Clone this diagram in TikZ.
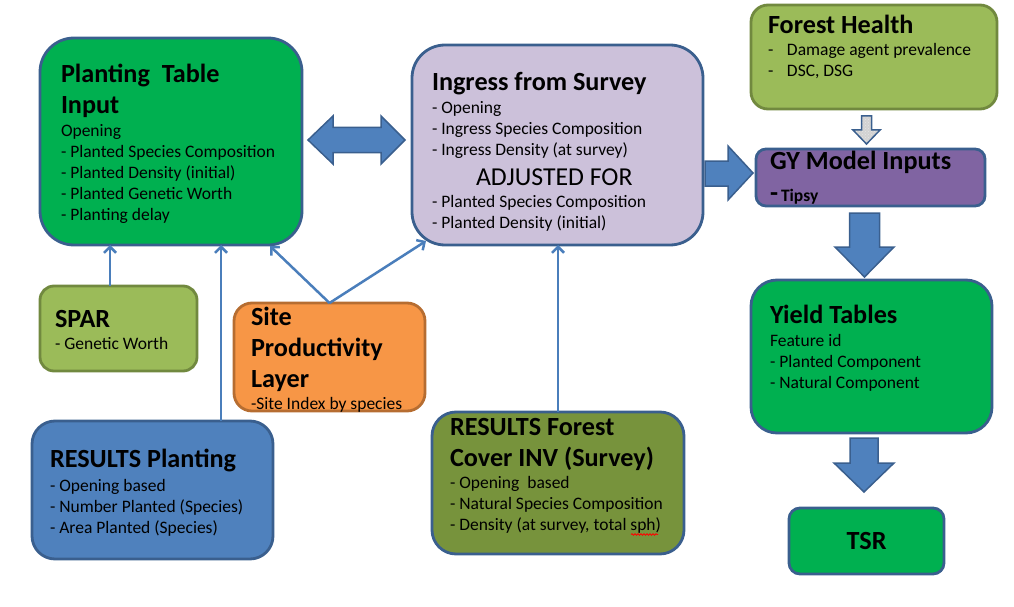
\documentclass[tikz,border=0pt]{standalone}
\usepackage{fontspec}
\setmainfont{Carlito}
\usetikzlibrary{arrows.meta,calc,patterns,decorations.pathmorphing}
\definecolor{cgreen}{HTML}{00B050}
\definecolor{clav}{HTML}{CCC1DA}
\definecolor{colive}{HTML}{9BBB59}
\definecolor{coliveD}{HTML}{71893F}
\definecolor{cpurple}{HTML}{8064A2}
\definecolor{corange}{HTML}{F79646}
\definecolor{corangeD}{HTML}{B66D31}
\definecolor{cblue}{HTML}{4F81BD}
\definecolor{cborder}{HTML}{3A5F8E}
\definecolor{cdkolive}{HTML}{77933C}
\definecolor{cline}{HTML}{4A7EBB}
\newcommand\boxtitle{\fontsize{26.2}{31}\selectfont\bfseries}
\newcommand\boxbody{\fontsize{17.5}{21}\selectfont\mdseries}
\newcommand\boxbig{\fontsize{25.8}{31}\selectfont\mdseries}
\tikzset{
  box/.style={draw=cborder, line width=2.8pt, inner sep=0pt, outer sep=0pt},
  txt/.style={inner sep=0pt, outer sep=0pt, anchor=base west, text=black},
  conn/.style={draw=cline, line width=2.5pt, -{Straight Barb[length=6pt,width=12pt]}},
  blockarrow/.style={fill=cblue, draw=cborder, line width=1.5pt, line join=miter},
}
\begin{document}
\begin{tikzpicture}[x=1pt,y=-1pt]
\useasboundingbox (0,0) rectangle (1014,607);

% boxes
\node[box, fill=cgreen, minimum width=262pt, minimum height=207pt, rounded corners=34pt] (pti) at (171,141.5) {};
\node[box, fill=clav, minimum width=291pt, minimum height=200pt, rounded corners=33pt] (ing) at (557.5,145) {};
\node[box, fill=colive, draw=coliveD, minimum width=246pt, minimum height=104pt, rounded corners=17pt] (fh) at (874,57) {};
\node[box, fill=cpurple, minimum width=229pt, minimum height=57pt, rounded corners=10pt] (gy) at (870.5,177.5) {};
\node[box, fill=cgreen, minimum width=241pt, minimum height=153pt, rounded corners=26pt] (yt) at (871.5,356.5) {};
\node[box, fill=cgreen, minimum width=155pt, minimum height=66pt, rounded corners=11pt, font=\boxtitle] (tsr) at (866.5,541) {TSR};
\node[box, fill=colive, draw=coliveD, minimum width=157pt, minimum height=85pt, rounded corners=14pt] (spar) at (118.5,328.5) {};
\node[box, fill=corange, draw=corangeD, minimum width=191pt, minimum height=108pt, rounded corners=18pt] (site) at (329.5,357) {};
\node[box, fill=cblue, minimum width=241pt, minimum height=138pt, rounded corners=23pt] (rp) at (152.5,490) {};
\node[box, fill=cdkolive, minimum width=252pt, minimum height=142pt, rounded corners=24pt] (fc) at (558,483) {};

% texts
\node[txt] (ptitxt) at (61,83) {\vtop{\boxtitle\hbox{Planting\ \ Table}\hbox{Input}\boxbody\vskip2pt
  \hbox{Opening}\hbox{- Planted Species Composition}\hbox{- Planted Density (initial)}\hbox{- Planted Genetic Worth}\hbox{- Planting delay}}};
\node[txt] (ingtxt) at (432,91) {\vtop{\boxtitle\hbox{Ingress from Survey}\boxbody\vskip2pt
  \hbox{- Opening}\hbox{- Ingress Species Composition}\hbox{- Ingress Density (at survey)}\boxbig\vskip-1pt
  \hbox{\hskip44pt ADJUSTED FOR}\boxbody\vskip1pt\hbox{- Planted Species Composition}\hbox{- Planted Density (initial)}}};
\node[txt] (fhtxt) at (768,34) {\vtop{\boxtitle\hbox{Forest Health}\boxbody\vskip1pt
  \hbox{\makebox[19pt][l]{-}Damage agent prevalence}\hbox{\makebox[19pt][l]{-}DSC, DSG}}};
\node[txt] (gytxt) at (770,169) {\vtop{\boxtitle\hbox{GY Model Inputs}\boxbody\vskip11.5pt
  \hbox{{\boxtitle -}\kern3pt{\bfseries Tipsy}}}};
\node[txt] (yttxt) at (770,323) {\vtop{\boxtitle\hbox{Yield Tables}\boxbody\vskip2pt
  \hbox{Feature id}\hbox{- Planted Component}\hbox{- Natural Component}}};
\node[txt] (spartxt) at (55,327) {\vtop{\boxtitle\hbox{SPAR}\boxbody\vskip1pt\hbox{- Genetic Worth}}};
\node[txt] (sitetxt) at (251,325) {\vtop{\boxtitle\hbox{Site}\hbox{Productivity}\hbox{Layer}\boxbody\vskip1pt
  \hbox{-Site Index by species}}};
\node[txt] (rptxt) at (50,467) {\vtop{\boxtitle\hbox{RESULTS Planting}\boxbody\vskip3pt
  \hbox{- Opening based}\hbox{- Number Planted (Species)}\hbox{- Area Planted (Species)}}};
\node[txt] (fctxt) at (450,435) {\vtop{\boxtitle\hbox{RESULTS Forest}\hbox{Cover INV (Survey)}\boxbody\vskip1pt
  \hbox{- Opening\ \ based}\hbox{- Natural Species Composition}\hbox{- Density (at survey, total sph)}}};
\draw[red, line width=0.8pt, decorate, decoration={snake, amplitude=0.8pt, segment length=3pt}] (631,534.5) -- (658,534.5);

% thin connectors
\coordinate (s1) at ($(spar.north)+(-8.5,0)$);
\draw[conn] (s1) -- (s1 |- pti.south);
\coordinate (r1) at ($(rp.north)+(68.5,0)$);
\draw[conn] (r1) -- (r1 |- pti.south);
\draw[conn] (site.north) -- ($(pti.south east)+(-32,1)$);
\draw[conn] (site.north) -- ($(ing.south west)+(14,-4)$);
\draw[conn] (fc.north) -- (fc.north |- ing.south);

% block arrows
\draw[blockarrow] ($(pti.east)+(6,-1.5)$) -- ++(25,-24) -- ++(0,11.5) -- ++(48,0) -- ++(0,-11.5) -- ++(24,24)
  -- ++(-24,24) -- ++(0,-11.5) -- ++(-48,0) -- ++(0,11.5) -- cycle;
\draw[blockarrow] ($(ing.east)+(2,16)$) -- ++(23,0) -- ++(0,-15) -- ++(25,27) -- ++(-25,27) -- ++(0,-14) -- ++(-23,0) -- cycle;
\draw[blockarrow] ($(gy.south)+(-21,7)$) -- ++(30,0) -- ++(0,34) -- ++(14.5,0) -- ++(-29.5,30) -- ++(-29.5,-30) -- ++(14.5,0) -- cycle;
\draw[blockarrow] ($(yt.south)+(-21.5,5)$) -- ++(28,0) -- ++(0,25) -- ++(16,0) -- ++(-30,29) -- ++(-30,-29) -- ++(16,0) -- cycle;
\draw[draw=cborder, line width=1.5pt, line join=miter, preaction={fill=gray!35}, pattern=crosshatch dots, pattern color=gray!20!white]
  ($(fh.south)+(-12.5,7)$) -- ++(10,0) -- ++(0,14) -- ++(8.5,0) -- ++(-13.5,14) -- ++(-13.5,-14) -- ++(8.5,0) -- cycle;
\end{tikzpicture}
\end{document}
